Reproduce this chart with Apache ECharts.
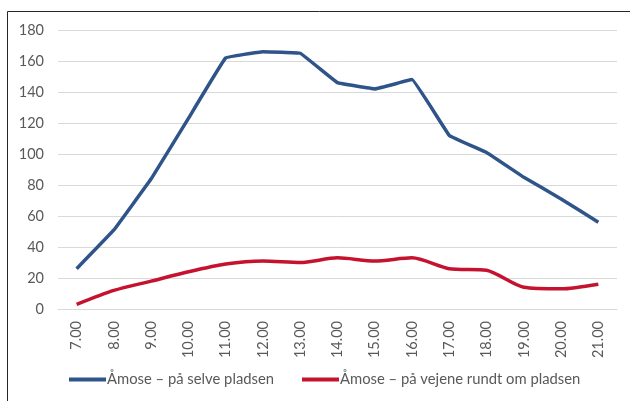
<!DOCTYPE html>
<html>
<head>
<meta charset="utf-8">
<script src="https://cdn.jsdelivr.net/npm/echarts@6/dist/echarts.min.js"></script>
<style>
  html, body { margin: 0; padding: 0; background: #fff; }
  #chart { width: 630px; height: 401px; }
</style>
</head>
<body>
<div id="chart"></div>
<script>
// hours along the x axis
const hours = ['7.00', '8.00', '9.00', '10.00', '11.00', '12.00', '13.00', '14.00',
  '15.00', '16.00', '17.00', '18.00', '19.00', '20.00', '21.00'];
const seriesNames = ['Åmose – på selve pladsen', 'Åmose – på vejene rundt om pladsen'];
const onSite = [26, 51, 84, 123, 162, 166, 165, 146, 142, 148, 112, 101, 85, 71, 56];
const roadsAround = [3, 12, 18, 24, 29, 31, 30, 33, 31, 33, 26, 25, 14, 13, 16];

const myChart = echarts.init(document.getElementById('chart'));
const txt = '#595959';
const font = 'Lato, "Liberation Sans", sans-serif';

myChart.setOption({
  animation: false,
  textStyle: { fontFamily: font },
  grid: { left: 58, right: 13, top: 30, bottom: 92 },
  graphic: [{
    type: 'rect',
    z: 0,
    silent: true,
    shape: { x: 7.5, y: 11.5, width: 700, height: 500 },
    style: { fill: 'none', stroke: '#262626', lineWidth: 1 }
  }],
  legend: {
    bottom: 9,
    left: 64,
    itemWidth: 37,
    itemHeight: 4,
    itemGap: 28,
    icon: 'rect',
    textStyle: { color: txt, fontSize: 14.8, fontFamily: font, padding: [0, 0, 0, -4] },
    data: seriesNames
  },
  xAxis: {
    type: 'category',
    data: hours,
    boundaryGap: true,
    axisLine: { show: true, lineStyle: { color: '#d9d9d9', width: 1 } },
    axisTick: { show: false },
    axisLabel: { rotate: 90, color: txt, fontSize: 14.5, margin: 12 }
  },
  yAxis: {
    type: 'value',
    min: 0,
    max: 180,
    interval: 20,
    axisLine: { show: false },
    axisTick: { show: false },
    axisLabel: { color: txt, fontSize: 14.5, margin: 14 },
    splitLine: { lineStyle: { color: '#d9d9d9', width: 1 } }
  },
  series: [
    {
      name: seriesNames[0],
      type: 'line',
      data: onSite,
      smooth: 0.05,
      symbol: 'none',
      itemStyle: { color: '#2F5489' },
      lineStyle: { color: '#2F5489', width: 3.5 }
    },
    {
      name: seriesNames[1],
      type: 'line',
      data: roadsAround,
      smooth: 0.25,
      symbol: 'none',
      itemStyle: { color: '#C4122F' },
      lineStyle: { color: '#C4122F', width: 3.5 }
    }
  ]
});
</script>
</body>
</html>
